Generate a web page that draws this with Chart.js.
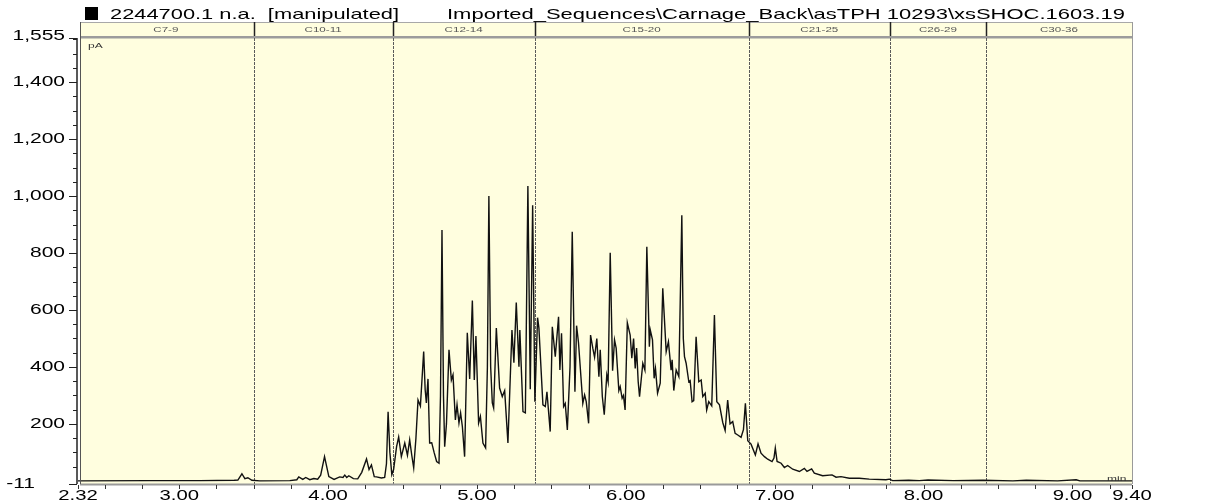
<!DOCTYPE html>
<html>
<head>
<meta charset="utf-8">
<script src="https://cdn.jsdelivr.net/npm/chart.js@4.4.1/dist/chart.umd.min.js"></script>
<style>
  html, body { margin: 0; padding: 0; background: #fff; }
  #wrap { width: 1208px; height: 501px; }
</style>
</head>
<body>
<div id="wrap"><canvas id="chart" width="1208" height="501"></canvas></div>
<script>
// ---- data ----
const titleLeft = "2244700.1 n.a.  [manipulated]";
const titleRight = "Imported_Sequences\\Carnage_Back\\asTPH 10293\\xsSHOC.1603.19";

// retention time (min)
const times = [
  2.32, 2.80, 3.14, 3.37, 3.394, 3.421, 3.441, 3.461, 3.488, 3.541,
  3.743, 3.790, 3.803, 3.830, 3.850, 3.877, 3.904, 3.930, 3.950, 3.976,
  4.005, 4.040, 4.078, 4.100, 4.112, 4.125, 4.139, 4.170, 4.199, 4.226,
  4.258, 4.275, 4.291, 4.310, 4.325, 4.358, 4.380, 4.392, 4.403, 4.415,
  4.428, 4.440, 4.460, 4.474, 4.492, 4.515, 4.533, 4.548, 4.562, 4.575,
  4.590, 4.604, 4.620, 4.642, 4.652, 4.660, 4.671, 4.682, 4.696, 4.712,
  4.729, 4.745, 4.755, 4.765, 4.775, 4.783, 4.795, 4.812, 4.828, 4.839,
  4.855, 4.866, 4.879, 4.890, 4.902, 4.917, 4.935, 4.951, 4.969, 4.982,
  4.993, 5.011, 5.023, 5.040, 5.058, 5.070, 5.080, 5.092, 5.103, 5.112,
  5.130, 5.152, 5.170, 5.186, 5.208, 5.235, 5.248, 5.264, 5.282, 5.288,
  5.309, 5.325, 5.342, 5.358, 5.374, 5.389, 5.407, 5.416, 5.443, 5.459,
  5.470, 5.492, 5.506, 5.526, 5.548, 5.557, 5.568, 5.582, 5.593, 5.607,
  5.625, 5.640, 5.658, 5.669, 5.682, 5.711, 5.723, 5.734, 5.750, 5.763,
  5.778, 5.790, 5.805, 5.819, 5.828, 5.842, 5.855, 5.872, 5.881, 5.895,
  5.911, 5.924, 5.935, 5.953, 5.962, 5.975, 5.984, 5.995, 6.010, 6.029,
  6.040, 6.052, 6.063, 6.072, 6.083, 6.092, 6.114, 6.128, 6.141, 6.158,
  6.164, 6.179, 6.190, 6.199, 6.213, 6.231, 6.248, 6.271, 6.286, 6.304,
  6.311, 6.322, 6.338, 6.356, 6.376, 6.386, 6.394, 6.405, 6.423, 6.432,
  6.445, 6.456, 6.472, 6.490, 6.506, 6.517, 6.533, 6.543, 6.557, 6.577,
  6.595, 6.611, 6.629, 6.651, 6.667, 6.684, 6.700, 6.718, 6.734, 6.752,
  6.774, 6.790, 6.803, 6.819, 6.841, 6.870, 6.888, 6.908, 6.931, 6.953,
  6.982, 6.995, 7.004, 7.016, 7.043, 7.065, 7.087, 7.121, 7.166, 7.199,
  7.217, 7.248, 7.266, 7.322, 7.385, 7.412, 7.445, 7.501, 7.568, 7.635,
  7.747, 7.770, 7.792, 7.900, 7.971, 8.030, 8.200, 8.400, 8.600, 8.690,
  8.900, 9.025, 9.050, 9.200, 9.400
];

// signal (pA)
const signal = [
  0, 1, 1, 2, 3, 25, 8, 11, 2, 0,
  1, 4, 14, 5, 12, 4, 8, 6, 20, 85,
  15, 5, 14, 12, 20, 12, 18, 8, 7, 30,
  77, 40, 56, 15, 14, 10, 12, 60, 243, 100,
  22, 40, 120, 154, 85, 133, 90, 144, 90, 46,
  150, 284, 263, 454, 320, 274, 358, 133, 134, 100,
  68, 62, 300, 881, 300, 120, 200, 460, 354, 372,
  214, 267, 203, 239, 190, 85, 520, 358, 633, 354,
  509, 203, 226, 133, 116, 400, 1000, 400, 274, 256,
  537, 326, 296, 317, 133, 530, 415, 626, 401, 530,
  243, 239, 1035, 322, 968, 278, 573, 537, 267, 261,
  313, 173, 541, 436, 576, 389, 518, 261, 272, 179,
  400, 875, 313, 545, 485, 272, 302, 278, 202, 512,
  466, 434, 500, 366, 460, 296, 232, 372, 348, 801,
  387, 495, 466, 317, 331, 290, 300, 249, 555, 512,
  431, 500, 395, 466, 348, 296, 413, 389, 822, 471,
  530, 495, 360, 395, 308, 343, 676, 454, 489, 389,
  425, 317, 389, 366, 933, 500, 436, 413, 348, 352,
  278, 282, 506, 348, 354, 296, 308, 249, 278, 263,
  582, 278, 267, 205, 177, 284, 200, 208, 167, 161,
  153, 180, 272, 141, 129, 91, 130, 97, 85, 76,
  68, 80, 115, 68, 62, 47, 54, 41, 33, 44,
  33, 42, 27, 18, 21, 13, 15, 9, 9, 6,
  4, 6, 1, 2, 1, 3, 1, 2, 0, 2,
  0, 4, 0, 0, 0
];

// carbon range windows (min)
const bandEdges = [2.32, 3.50, 4.433, 5.387, 6.825, 7.774, 8.419, 9.40];
const bandLabels = ["C7-9", "C10-11", "C12-14", "C15-20", "C21-25", "C26-29", "C30-36"];

const xTickValues = [2.32, 3, 4, 5, 6, 7, 8, 9, 9.40];
const xTickLabels = ["2.32", "3.00", "4.00", "5.00", "6.00", "7.00", "8.00", "9.00", "9.40"];
const yTickValues = [-11, 200, 400, 600, 800, 1000, 1200, 1400, 1555];
const yTickLabels = ["-11", "200", "400", "600", "800", "1,000", "1,200", "1,400", "1,555"];

const points = times.map((t, i) => ({ x: t, y: signal[i] }));

const YELLOW = "#FFFEDF";
const FONT = "'Liberation Sans', Arial, sans-serif";

function wideText(ctx, text, x, y, sx, align) {
  ctx.save();
  ctx.translate(x, y);
  ctx.scale(sx, 1);
  ctx.textAlign = align;
  ctx.fillText(text, 0, 0);
  ctx.restore();
}

function fitText(ctx, text, x, y, width) {
  const w = ctx.measureText(text).width;
  wideText(ctx, text, x, y, width / w, "left");
}

const chromPlugin = {
  id: "chrom",
  beforeDraw(chart) {
    const { ctx } = chart;
    const a = chart.chartArea;
    const xs = chart.scales.x;
    ctx.save();
    ctx.fillStyle = "#fff";
    ctx.fillRect(0, 0, chart.width, chart.height);
    // plot background
    ctx.fillStyle = YELLOW;
    ctx.fillRect(80, 22, a.right - 80, a.bottom - 22);
    // header strip
    ctx.strokeStyle = "#a8a8a8";
    ctx.lineWidth = 1;
    ctx.beginPath();
    ctx.moveTo(80, 22.5);
    ctx.lineTo(a.right, 22.5);
    ctx.stroke();
    ctx.fillStyle = "#9c9c9c";
    ctx.fillRect(80, 36, a.right - 80, 2.5);
    // header labels
    ctx.fillStyle = "#555";
    ctx.font = "8px " + FONT;
    ctx.textBaseline = "middle";
    for (let i = 0; i < bandLabels.length; i++) {
      const x0 = xs.getPixelForValue(bandEdges[i]);
      const x1 = xs.getPixelForValue(bandEdges[i + 1]);
      wideText(ctx, bandLabels[i], (x0 + x1) / 2, 29.5, 1.45, "center");
    }
    ctx.restore();
  },
  beforeDatasetsDraw(chart) {
    const { ctx } = chart;
    const a = chart.chartArea;
    const xs = chart.scales.x;
    ctx.save();
    for (let i = 1; i < bandEdges.length - 1; i++) {
      const x = Math.round(xs.getPixelForValue(bandEdges[i])) + 0.5;
      // divider in the header
      ctx.strokeStyle = "#222";
      ctx.lineWidth = 1.5;
      ctx.setLineDash([]);
      ctx.beginPath();
      ctx.moveTo(x, 22);
      ctx.lineTo(x, 36);
      ctx.stroke();
      // divider in the plot
      ctx.strokeStyle = "#5a5a5a";
      ctx.lineWidth = 1;
      ctx.setLineDash([3, 1]);
      ctx.beginPath();
      ctx.moveTo(x, 38);
      ctx.lineTo(x, a.bottom);
      ctx.stroke();
    }
    ctx.restore();
  },
  afterDraw(chart) {
    const { ctx } = chart;
    const a = chart.chartArea;
    const xs = chart.scales.x;
    const ys = chart.scales.y;
    ctx.save();

    // frame
    ctx.strokeStyle = "#9a9a9a";
    ctx.lineWidth = 2;
    ctx.beginPath();
    ctx.moveTo(80, a.bottom + 0.5);
    ctx.lineTo(a.right, a.bottom + 0.5);
    ctx.stroke();
    ctx.lineWidth = 1;
    ctx.beginPath();
    ctx.moveTo(a.right + 0.5, 22);
    ctx.lineTo(a.right + 0.5, a.bottom);
    ctx.stroke();
    ctx.strokeStyle = "#555";
    ctx.beginPath();
    ctx.moveTo(80.5, 22);
    ctx.lineTo(80.5, a.bottom);
    ctx.stroke();

    // y axis line and ticks
    ctx.strokeStyle = "#222";
    ctx.lineWidth = 1.5;
    ctx.beginPath();
    ctx.moveTo(77, ys.getPixelForValue(1555));
    ctx.lineTo(77, ys.getPixelForValue(-11));
    ctx.stroke();
    ctx.lineWidth = 1;
    for (let v = 50; v < 1555; v += 50) {
      const y = Math.round(ys.getPixelForValue(v)) + 0.5;
      const major = v % 200 === 0;
      ctx.beginPath();
      ctx.moveTo(major ? 69 : 73, y);
      ctx.lineTo(77, y);
      ctx.stroke();
    }
    [-11, 1555].forEach(v => {
      const y = Math.round(ys.getPixelForValue(v)) + 0.5;
      ctx.beginPath();
      ctx.moveTo(69, y);
      ctx.lineTo(77, y);
      ctx.stroke();
    });

    // x ticks
    ctx.strokeStyle = "#333";
    for (let t = 2.5; t < 9.4; t += 0.25) {
      const x = Math.round(xs.getPixelForValue(t)) + 0.5;
      ctx.beginPath();
      ctx.moveTo(x, a.bottom + 1);
      ctx.lineTo(x, a.bottom + 5);
      ctx.stroke();
    }
    [2.32, 9.40].forEach(t => {
      const x = Math.round(xs.getPixelForValue(t)) + 0.5;
      ctx.beginPath();
      ctx.moveTo(x, a.bottom + 1);
      ctx.lineTo(x, a.bottom + 5);
      ctx.stroke();
    });

    // tick labels
    ctx.fillStyle = "#000";
    ctx.font = "14px " + FONT;
    ctx.textBaseline = "middle";
    yTickValues.forEach((v, i) => {
      const y = ys.getPixelForValue(v);
      const right = yTickLabels[i] === "-11" ? 35 : 65;
      wideText(ctx, yTickLabels[i], right, v === 1555 ? y - 2 : y, 1.5, "right");
    });
    ctx.textBaseline = "alphabetic";
    xTickValues.forEach((v, i) => {
      wideText(ctx, xTickLabels[i], xs.getPixelForValue(v), 500, 1.45, "center");
    });

    // unit labels
    ctx.fillStyle = "#333";
    ctx.font = "8px " + FONT;
    ctx.textBaseline = "alphabetic";
    wideText(ctx, "pA", 88, 48, 1.5, "left");
    wideText(ctx, "min", 1107, 481, 1.5, "left");

    // title
    ctx.fillStyle = "#000";
    ctx.fillRect(85, 7, 13, 13);
    ctx.font = "15px " + FONT;
    ctx.textBaseline = "alphabetic";
    fitText(ctx, titleLeft, 110, 19, 289);
    fitText(ctx, titleRight, 447, 19, 678);

    ctx.restore();
  }
};

new Chart(document.getElementById("chart"), {
  type: "line",
  data: {
    datasets: [{
      data: points,
      borderColor: "#111",
      borderWidth: 1.4,
      pointRadius: 0,
      tension: 0,
      fill: false
    }]
  },
  options: {
    responsive: false,
    animation: false,
    events: [],
    layout: { padding: { top: 38, right: 76, left: 0, bottom: 0 } },
    plugins: { legend: { display: false }, tooltip: { enabled: false }, title: { display: false } },
    scales: {
      x: {
        type: "linear",
        min: 2.32,
        max: 9.40,
        ticks: { display: false },
        grid: { display: false },
        border: { display: false },
        afterFit: s => { s.height = 17; }
      },
      y: {
        type: "linear",
        min: -11,
        max: 1555,
        ticks: { display: false },
        grid: { display: false },
        border: { display: false },
        afterFit: s => { s.width = 78; }
      }
    }
  },
  plugins: [chromPlugin]
});
</script>
</body>
</html>
